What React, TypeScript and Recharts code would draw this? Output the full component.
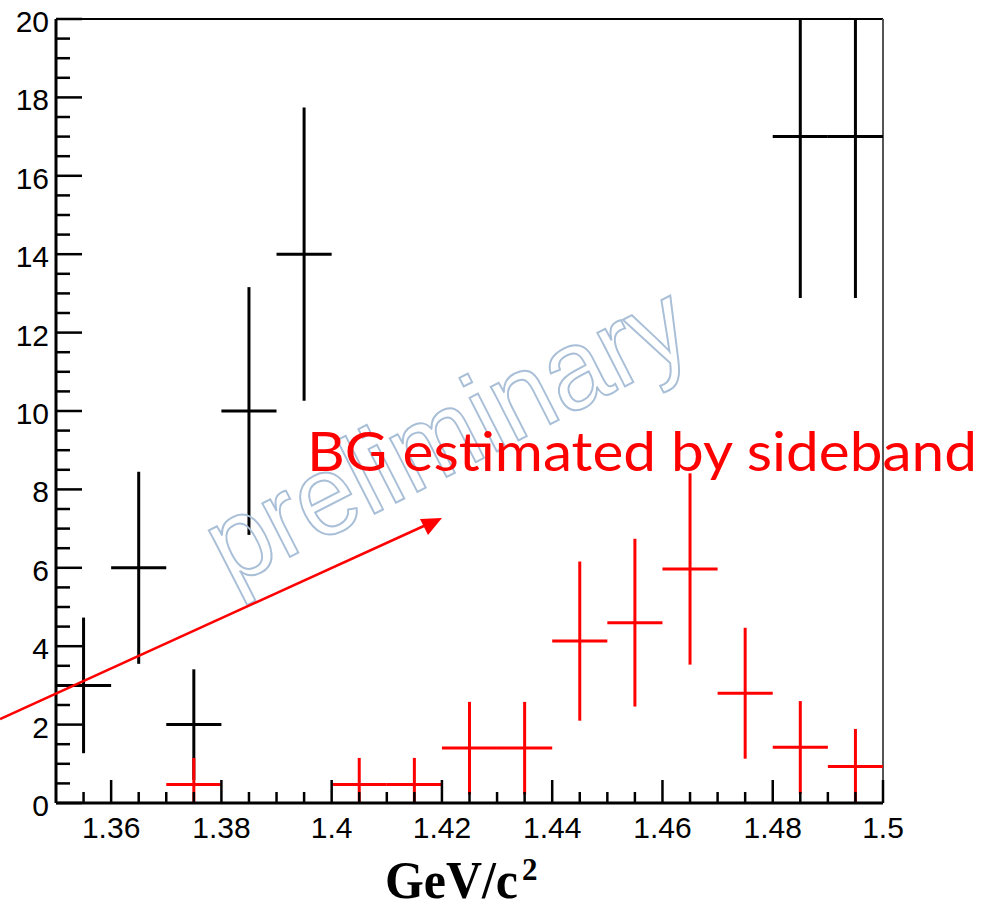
import { ComposedChart, Scatter, XAxis, YAxis, ErrorBar, ReferenceLine } from 'recharts'

// bin centres (GeV/c^2), all bins are 0.01 wide
const signalBins = [1.355, 1.365, 1.375, 1.385, 1.395, 1.485, 1.495]
const signalCounts = [3, 6, 2, 10, 14, 17, 17]
const signalErrors = [1.73, 2.45, 1.41, 3.16, 3.74, 4.12, 4.12]

const bgBins = [1.375, 1.405, 1.415, 1.425, 1.435, 1.445, 1.455, 1.465, 1.475, 1.485, 1.495]
const bgCounts = [0.47, 0.47, 0.47, 1.4, 1.4, 4.13, 4.6, 5.97, 2.8, 1.42, 0.93]
const bgErrors = [0.68, 0.68, 0.68, 1.18, 1.18, 2.03, 2.14, 2.44, 1.67, 1.18, 0.96]

const binHalfWidth = 0.005
const yRange = [0, 20]

const xTicks = [
  1.355, 1.36, 1.365, 1.37, 1.375, 1.38, 1.385, 1.39, 1.395, 1.4, 1.405, 1.41, 1.415, 1.42,
  1.425, 1.43, 1.435, 1.44, 1.445, 1.45, 1.455, 1.46, 1.465, 1.47, 1.475, 1.48, 1.485, 1.49,
  1.495, 1.5,
]
const xMajor = [1.36, 1.38, 1.4, 1.42, 1.44, 1.46, 1.48, 1.5]
const xLabels = ['1.36', '1.38', '1.4', '1.42', '1.44', '1.46', '1.48', '1.5']

const yTicks = [
  0, 0.5, 1, 1.5, 2, 2.5, 3, 3.5, 4, 4.5, 5, 5.5, 6, 6.5, 7, 7.5, 8, 8.5, 9, 9.5, 10,
  10.5, 11, 11.5, 12, 12.5, 13, 13.5, 14, 14.5, 15, 15.5, 16, 16.5, 17, 17.5, 18, 18.5,
  19, 19.5, 20,
]
const yMajor = [0, 2, 4, 6, 8, 10, 12, 14, 16, 18, 20]
const yLabels = ['0', '2', '4', '6', '8', '10', '12', '14', '16', '18', '20']

// error bars are cut at the frame like in the ROOT canvas
const clipErr = (y: number, e: number) => [
  Math.min(e, y - yRange[0]),
  Math.min(e, yRange[1] - y),
]

const signalData = signalBins.map((x, i) => ({
  x,
  y: signalCounts[i],
  yErr: clipErr(signalCounts[i], signalErrors[i]),
  xErr: binHalfWidth,
}))
const bgData = bgBins.map((x, i) => ({
  x,
  y: bgCounts[i],
  yErr: clipErr(bgCounts[i], bgErrors[i]),
  xErr: binHalfWidth,
}))

const FONT = '"Liberation Sans", Arial, sans-serif'

const findMajor = (list: number[], v: number) =>
  list.findIndex((m) => Math.abs(m - v) < 1e-6)

const XTick = (props: any) => {
  const { x, y, payload } = props
  const idx = findMajor(xMajor, payload.value)
  return (
    <g>
      <line x1={x} y1={y} x2={x} y2={y - (idx >= 0 ? 23 : 11)} stroke='#000' strokeWidth={2.5} />
      {idx >= 0 && (
        <text x={x} y={y + 35} textAnchor='middle' fontFamily={FONT} fontSize={30} fill='#000'>
          {xLabels[idx]}
        </text>
      )}
    </g>
  )
}

const YTick = (props: any) => {
  const { x, y, payload } = props
  const idx = findMajor(yMajor, payload.value)
  return (
    <g>
      <line x1={x} y1={y} x2={x + (idx >= 0 ? 26 : 14)} y2={y} stroke='#000' strokeWidth={2.5} />
      {idx >= 0 && (
        <text x={x - 7} y={y + 13} textAnchor='end' fontFamily={FONT} fontSize={30} fill='#000'>
          {yLabels[idx]}
        </text>
      )}
    </g>
  )
}

const NoDot = () => <g />

export default function App() {
  return (
    <div style={{ position: 'absolute', left: 0, top: 0, width: 983, height: 908, background: '#fff' }}>
      <ComposedChart
        width={983}
        height={908}
        margin={{ top: 19, right: 100, bottom: 0, left: 0 }}
      >
        <XAxis
          dataKey='x'
          type='number'
          domain={[1.35, 1.5]}
          ticks={xTicks}
          interval={0}
          tickSize={0}
          tickMargin={0}
          tickLine={false}
          tick={<XTick />}
          height={105}
          allowDataOverflow
          axisLine={{ stroke: '#000', strokeWidth: 3 }}
        />
        <YAxis
          type='number'
          domain={yRange}
          ticks={yTicks}
          interval={0}
          tickSize={0}
          tickMargin={0}
          tickLine={false}
          tick={<YTick />}
          width={56}
          allowDataOverflow
          axisLine={{ stroke: '#000', strokeWidth: 3 }}
        />
        <ReferenceLine y={20} stroke='#000' strokeWidth={2} />
        <ReferenceLine x={1.5} stroke='#555' strokeWidth={2} />
        <Scatter data={signalData} dataKey='y' shape={<NoDot />} isAnimationActive={false}>
          <ErrorBar dataKey='yErr' direction='y' width={0} stroke='#000' strokeWidth={3} isAnimationActive={false} />
          <ErrorBar dataKey='xErr' direction='x' width={0} stroke='#000' strokeWidth={3} isAnimationActive={false} />
        </Scatter>
        <Scatter data={bgData} dataKey='y' shape={<NoDot />} isAnimationActive={false}>
          <ErrorBar dataKey='yErr' direction='y' width={0} stroke='#ff0000' strokeWidth={3} isAnimationActive={false} />
          <ErrorBar dataKey='xErr' direction='x' width={0} stroke='#ff0000' strokeWidth={3} isAnimationActive={false} />
        </Scatter>
      </ComposedChart>
      <svg
        width={983}
        height={908}
        style={{ position: 'absolute', left: 0, top: 0, pointerEvents: 'none' }}
      >
        <text
          x={446}
          y={433}
          textAnchor='middle'
          dominantBaseline='central'
          transform='rotate(-27 446 433)'
          fontFamily={FONT}
          fontSize={114}
          textLength={525}
          lengthAdjust='spacingAndGlyphs'
          fill='none'
          stroke='#a9bfd7'
          strokeWidth={2}
        >
          preliminary
        </text>
        <line x1={0} y1={719} x2={426} y2={525} stroke='#ff0000' strokeWidth={2.5} />
        <polygon points='442,518 420,519 428,535' fill='#ff0000' />
        <text
          x={307}
          y={471}
          fontFamily='Lato, "Open Sans", sans-serif'
          fontSize={54}
          textLength={670}
          lengthAdjust='spacingAndGlyphs'
          fill='#ff0000'
        >
          BG estimated by sideband
        </text>
        <text
          x={385}
          y={898}
          fontFamily='"Liberation Serif", serif'
          fontWeight='bold'
          fontSize={52}
          textLength={133}
          lengthAdjust='spacingAndGlyphs'
          fill='#000'
        >
          GeV/c
        </text>
        <text x={522} y={880} fontFamily='"Liberation Serif", serif' fontWeight='bold' fontSize={31} fill='#000'>
          2
        </text>
      </svg>
    </div>
  )
}
